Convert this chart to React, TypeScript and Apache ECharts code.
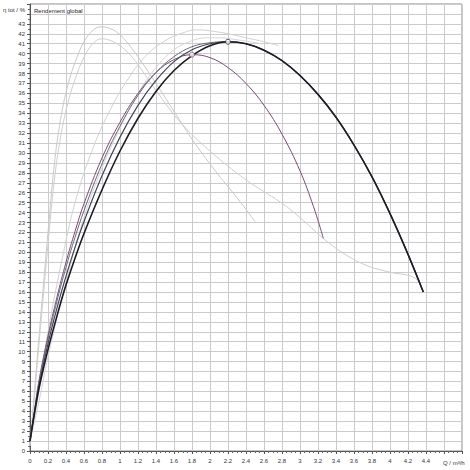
import React, { useEffect, useRef } from "react";
import * as echarts from "echarts";

// Flow (m³/h) / efficiency (%)
const mainQ = [0, 0.05, 0.1, 0.2, 0.3, 0.4, 0.5, 0.6, 0.8, 1.0, 1.2, 1.4, 1.6, 1.8, 2.0, 2.2, 2.4, 2.6, 2.8, 3.0, 3.2, 3.4, 3.6, 3.8, 4.0, 4.2, 4.37];
const mainEta = [1, 3.8, 6.3, 10.2, 13.6, 16.7, 19.4, 21.9, 26.3, 30.2, 33.5, 36.2, 38.3, 39.8, 40.8, 41.2, 41.0, 40.35, 39.3, 37.8, 35.9, 33.6, 30.8, 27.6, 23.9, 19.8, 16];

const gray1Q = [0, 0.05, 0.1, 0.2, 0.3, 0.4, 0.5, 0.6, 0.8, 1.0, 1.2, 1.4, 1.6, 1.8, 2.0, 2.2, 2.4, 2.6, 2.8, 3.0, 3.2, 3.4, 3.6, 3.8, 4.0, 4.2, 4.37];
const gray1Eta = [1, 3.9, 6.6, 10.8, 14.4, 17.6, 20.5, 23.1, 27.7, 31.6, 34.8, 37.3, 39.2, 40.4, 41.0, 41.2, 41.0, 40.35, 39.3, 37.8, 35.9, 33.6, 30.8, 27.6, 23.9, 19.8, 16];

const gray2Q = [0, 0.05, 0.1, 0.2, 0.3, 0.4, 0.5, 0.6, 0.8, 1.0, 1.2, 1.4, 1.6, 1.8, 2.0, 2.2, 2.4, 2.6, 2.8, 3.0, 3.2, 3.4, 3.6, 3.8, 4.0, 4.2, 4.37];
const gray2Eta = [1, 4.0, 6.9, 11.3, 15.1, 18.5, 21.5, 24.2, 28.9, 32.7, 35.8, 38.1, 39.7, 40.7, 41.1, 41.2, 41.0, 40.35, 39.3, 37.8, 35.9, 33.6, 30.8, 27.6, 23.9, 19.8, 16];

const purpleQ = [0, 0.05, 0.1, 0.2, 0.3, 0.4, 0.5, 0.6, 0.8, 1.0, 1.2, 1.4, 1.6, 1.8, 2.0, 2.2, 2.4, 2.6, 2.8, 3.0, 3.15, 3.26];
const purpleEta = [1, 4.1, 7.1, 11.6, 15.5, 19.0, 22.1, 24.9, 29.5, 33.1, 36.0, 38.1, 39.4, 39.9, 39.6, 38.6, 37.0, 34.8, 31.9, 28.2, 24.6, 21.4];

const lightAQ = [0, 0.05, 0.1, 0.15, 0.2, 0.27, 0.34, 0.42, 0.52, 0.62, 0.72, 0.8, 0.9, 1.0, 1.1, 1.2, 1.4, 1.6, 1.8, 2.05, 2.3, 2.5];
const lightAEta = [0.5, 6, 11.5, 16.8, 22, 28.8, 33.4, 36.8, 39.6, 41.5, 42.5, 42.7, 42.5, 41.9, 40.9, 39.7, 37.0, 34.2, 31.4, 28.3, 25.5, 23.1];

const lightBQ = [0, 0.05, 0.1, 0.15, 0.2, 0.27, 0.34, 0.42, 0.52, 0.62, 0.72, 0.8, 0.9, 1.0, 1.1, 1.2, 1.4, 1.68, 2.0, 2.4, 2.79, 3.0, 3.26, 3.5, 3.76, 4.0, 4.28, 4.37];
const lightBEta = [0.5, 5.5, 10.8, 15.8, 20.8, 27.2, 31.6, 35.0, 37.9, 40.0, 41.2, 41.5, 41.3, 40.8, 40.0, 38.9, 36.3, 33, 30.2, 27.3, 25, 23.5, 21.4, 19.8, 18.6, 18.0, 17.4, 16];

const lightCQ = [0, 0.1, 0.2, 0.35, 0.5, 0.7, 0.9, 1.1, 1.3, 1.5, 1.7, 1.85, 2.0, 2.2, 2.4, 2.6, 2.76];
const lightCEta = [1, 6, 12, 19, 25, 30.5, 34.5, 37.6, 39.9, 41.3, 42.1, 42.4, 42.3, 42.0, 41.6, 41.2, 40.8];

const lightDQ = [0, 0.1, 0.2, 0.4, 0.6, 0.8, 1.0, 1.2, 1.4, 1.6, 1.8, 1.95, 2.1, 2.3, 2.57];
const lightDEta = [1, 5, 9.5, 17, 23.5, 28.5, 32.5, 36, 38.6, 40.4, 41.3, 41.6, 41.6, 41.4, 41.0];

const bepMain = [2.2, 41.2];
const bepPurple = [1.8, 39.9];

const pairs = (q: number[], eta: number[]) => q.map((v, i) => [v, eta[i]]);

const line = (data: number[][], color: string, width: number, z = 2) => ({
  type: "line",
  data,
  smooth: 0.4,
  showSymbol: false,
  z,
  lineStyle: { color, width },
});

const App: React.FC = () => {
  const chartRef = useRef<HTMLDivElement>(null);

  useEffect(() => {
    if (!chartRef.current) return;
    const chart = echarts.init(chartRef.current, null, { renderer: "svg" });
    const font = "'Liberation Sans', Arial, sans-serif";

    chart.setOption({
      animation: false,
      backgroundColor: "#fff",
      textStyle: { fontFamily: font },
      grid: {
        left: 30,
        right: 8,
        top: 4,
        bottom: 19,
        show: true,
        borderColor: "#888",
        borderWidth: 1,
      },
      xAxis: {
        type: "value",
        min: 0,
        max: 4.8,
        interval: 0.2,
        axisLine: { lineStyle: { color: "#555" } },
        axisTick: { length: 3, lineStyle: { color: "#555" } },
        minorTick: { show: true, splitNumber: 4, length: 2, lineStyle: { color: "#666" } },
        axisLabel: {
          fontSize: 6,
          color: "#333",
          margin: 7,
          formatter: (v: number) => (v > 4.5 ? "" : String(Math.round(v * 10) / 10)),
        },
        splitLine: { lineStyle: { color: "#cbcbcb" } },
      },
      yAxis: {
        type: "value",
        min: 0,
        max: 45,
        interval: 1,
        axisLine: { show: true, lineStyle: { color: "#555" } },
        axisTick: { show: true, length: 3, lineStyle: { color: "#555" } },
        minorTick: { show: true, splitNumber: 2, length: 2, lineStyle: { color: "#666" } },
        axisLabel: {
          fontSize: 6,
          color: "#333",
          margin: 5,
          formatter: (v: number) => (v > 43 ? "" : String(v)),
        },
        splitLine: { lineStyle: { color: "#cbcbcb" } },
      },
      graphic: [
        { type: "text", left: 3, top: 7, style: { text: "η tot / %", fontSize: 6, fill: "#333", fontFamily: font } },
        { type: "text", left: 34, top: 8, style: { text: "Rendement global", fontSize: 6, fill: "#222", fontFamily: font } },
        { type: "text", left: 443, top: 460, style: { text: "Q / m³/h", fontSize: 6, fill: "#333", fontFamily: font } },
      ],
      series: [
        line(pairs(lightAQ, lightAEta), "#c9c9c9", 1),
        line(pairs(lightBQ, lightBEta), "#cfcfcf", 1),
        line(pairs(lightCQ, lightCEta), "#d2d2d2", 1),
        line(pairs(lightDQ, lightDEta), "#d6d6d6", 1),
        line(pairs(purpleQ, purpleEta), "#7a4a72", 1, 3),
        line(pairs(gray2Q, gray2Eta), "#6c6c7c", 1, 3),
        line(pairs(gray1Q, gray1Eta), "#45455a", 1.2, 4),
        line(pairs(mainQ, mainEta), "#1c1c24", 1.6, 5),
        {
          type: "scatter",
          data: [bepMain],
          symbol: "circle",
          symbolSize: 5,
          z: 6,
          itemStyle: { color: "#fff", borderColor: "#2a2a3a", borderWidth: 1 },
        },
        {
          type: "scatter",
          data: [bepPurple],
          symbol: "circle",
          symbolSize: 5,
          z: 6,
          itemStyle: { color: "#fff", borderColor: "#7a4a72", borderWidth: 1 },
        },
      ],
    });

    return () => {
      chart.dispose();
    };
  }, []);

  return (
    <div
      ref={chartRef}
      style={{ position: "absolute", left: 0, top: 0, width: "470px", height: "470px" }}
    />
  );
};

export default App;
